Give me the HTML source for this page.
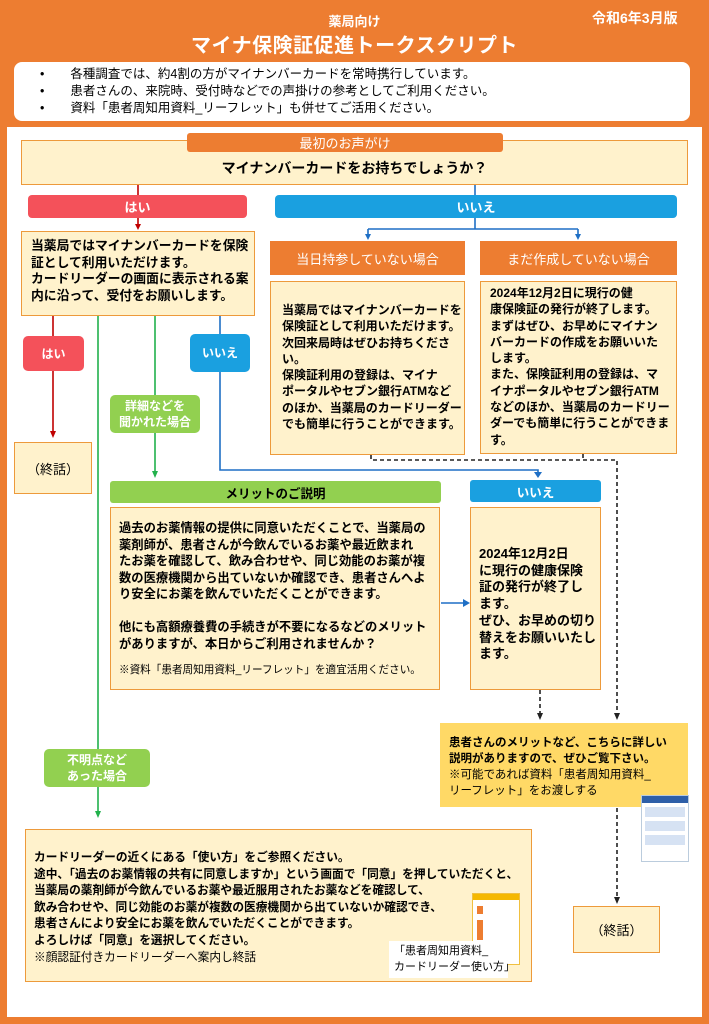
<!DOCTYPE html>
<html><head><meta charset="utf-8"><style>
*{margin:0;padding:0;box-sizing:border-box}
body{width:709px;height:1024px;background:#ED7D31;position:relative;overflow:hidden;font-family:"Liberation Sans","Noto Sans CJK JP",sans-serif;color:#000}
.a{position:absolute}
.box{position:absolute;background:#FFF2CC;border:1.5px solid #ED9A3B;white-space:nowrap}
.b{font-weight:bold}
.w{color:#fff}
.c{display:flex;align-items:center;justify-content:center;text-align:center}
.tag{position:absolute;border-radius:5px;color:#fff;font-weight:bold;font-size:12px;line-height:16px;white-space:nowrap}
</style></head><body>
<div class="a w b" style="left:0;width:709px;top:11px;text-align:center;font-size:13px">薬局向け</div>
<div class="a w b" style="left:0;width:709px;top:29px;text-align:center;font-size:20px;letter-spacing:0.5px">マイナ保険証促進トークスクリプト</div>
<div class="a w b" style="left:592px;top:8px;font-size:14px">令和6年3月版</div>
<div class="a" style="left:14px;top:62px;width:676px;height:59px;background:#fff;border-radius:8px;font-size:12.5px;line-height:17px;padding-top:4px">
<div style="padding-left:26px">•<span style="margin-left:26px">各種調査では、約4割の方がマイナンバーカードを常時携行しています。</span></div>
<div style="padding-left:26px">•<span style="margin-left:26px">患者さんの、来院時、受付時などでの声掛けの参考としてご利用ください。</span></div>
<div style="padding-left:26px">•<span style="margin-left:26px">資料「患者周知用資料_リーフレット」も併せてご活用ください。</span></div>
</div>
<div class="a" style="left:7px;top:127px;width:695px;height:890px;background:#fff"></div>

<div class="box" style="left:21px;top:140px;width:667px;height:45px"></div>
<div class="a c w" style="left:187px;top:133px;width:316px;height:19px;background:#ED7D31;border-radius:3px;font-size:13px">最初のお声がけ</div>
<div class="a b" style="left:21px;width:667px;top:158px;text-align:center;font-size:14px">マイナンバーカードをお持ちでしょうか？</div>

<div class="a c w b" style="left:28px;top:195px;width:219px;height:23px;background:#F4515A;border-radius:4px;font-size:13px">はい</div>
<div class="a c w b" style="left:275px;top:195px;width:402px;height:23px;background:#1AA0E0;border-radius:4px;font-size:13px">いいえ</div>

<div class="box b" style="left:21px;top:231px;width:234px;height:85px;font-size:12.8px;line-height:16.5px;padding:6px 0 0 9px">当薬局ではマイナンバーカードを保険<br>証として利用いただけます。<br>カードリーダーの画面に表示される案<br>内に沿って、受付をお願いします。</div>

<div class="a c w" style="left:270px;top:241px;width:195px;height:34px;background:#ED7D31;font-size:13px">当日持参していない場合</div>
<div class="a c w" style="left:480px;top:241px;width:197px;height:34px;background:#ED7D31;font-size:13px">まだ作成していない場合</div>
<div class="box b" style="left:270px;top:281px;width:195px;height:174px;font-size:12px;line-height:16.3px;padding:20px 0 0 11px">当薬局ではマイナンバーカードを<br>保険証として利用いただけます。<br>次回来局時はぜひお持ちくださ<br>い。<br>保険証利用の登録は、マイナ<br>ポータルやセブン銀行ATMなど<br>のほか、当薬局のカードリーダー<br>でも簡単に行うことができます。</div>
<div class="box b" style="left:480px;top:281px;width:197px;height:173px;font-size:12px;line-height:16.3px;padding:3px 0 0 9px">2024年12月2日に現行の健<br>康保険証の発行が終了します。<br>まずはぜひ、お早めにマイナン<br>バーカードの作成をお願いいた<br>します。<br>また、保険証利用の登録は、マ<br>イナポータルやセブン銀行ATM<br>などのほか、当薬局のカードリー<br>ダーでも簡単に行うことができま<br>す。</div>

<svg class="a" style="left:0;top:0" width="709" height="1024">
<g stroke-width="1.6" fill="none">
<path d="M138,185V195M138,218V225" stroke="#C00000"/><path d="M135,224 L141,224 L138,230z" fill="#C00000" stroke="none"/>
<path d="M475,185V195M475,218V229M368,229H578M368,229V235M578,229V235" stroke="#1F6FC5"/>
<path d="M365,234 L371,234 L368,240z M575,234 L581,234 L578,240z" fill="#1F6FC5" stroke="none"/>
<path d="M53,316V432" stroke="#C00000"/><path d="M50,431 L56,431 L53,438z" fill="#C00000" stroke="none"/>
<path d="M98,316V812" stroke="#22B14C"/><path d="M95,811 L101,811 L98,818z" fill="#22B14C" stroke="none"/>
<path d="M155,316V472" stroke="#22B14C"/><path d="M152,471 L158,471 L155,478z" fill="#22B14C" stroke="none"/>
<path d="M220,316V470H538V474" stroke="#1F6FC5"/><path d="M534,472 L542,472 L538,478z" fill="#1F6FC5" stroke="none"/>
<path d="M441,603H464" stroke="#1F6FC5"/><path d="M463,599 L470,603 L463,607z" fill="#1F6FC5" stroke="none"/>
<g stroke="#222" stroke-dasharray="4,3">
<path d="M371,455V460H617V714M583,454V460M540,690V714M617,808V898"/>
</g>
<path d="M537,713 L543,713 L540,720z M614,713 L620,713 L617,720z M614,897 L620,897 L617,904z" fill="#222" stroke="none"/>
</g>
</svg>

<div class="tag c" style="left:23px;top:336px;width:61px;height:35px;background:#F4515A">はい</div>
<div class="tag c" style="left:190px;top:334px;width:60px;height:38px;background:#1AA0E0">いいえ</div>
<div class="tag c" style="left:110px;top:395px;width:90px;height:38px;background:#92D050">詳細などを<br>聞かれた場合</div>
<div class="tag c" style="left:44px;top:749px;width:106px;height:38px;background:#92D050">不明点など<br>あった場合</div>

<div class="box c" style="left:14px;top:442px;width:78px;height:52px;font-size:13px">（終話）</div>

<div class="a c b" style="left:110px;top:481px;width:331px;height:22px;background:#92D050;font-size:12.5px;border-radius:3px">メリットのご説明</div>
<div class="box" style="left:110px;top:507px;width:330px;height:183px;font-size:12.3px;line-height:16.5px;padding:12px 0 0 8px"><span class="b">過去のお薬情報の提供に同意いただくことで、当薬局の<br>薬剤師が、患者さんが今飲んでいるお薬や最近飲まれ<br>たお薬を確認して、飲み合わせや、同じ効能のお薬が複<br>数の医療機関から出ていないか確認でき、患者さんへよ<br>り安全にお薬を飲んでいただくことができます。<br><br>他にも高額療養費の手続きが不要になるなどのメリット<br>がありますが、本日からご利用されませんか？</span><div style="font-size:10.6px;margin-top:10px">※資料「患者周知用資料_リーフレット」を適宜活用ください。</div></div>

<div class="a c w b" style="left:470px;top:480px;width:131px;height:22px;background:#1AA0E0;font-size:12.5px;border-radius:3px">いいえ</div>
<div class="box b" style="left:470px;top:507px;width:131px;height:183px;font-size:13px;line-height:16.7px;padding:38px 0 0 8px">2024年12月2日<br>に現行の健康保険<br>証の発行が終了し<br>ます。<br>ぜひ、お早めの切り<br>替えをお願いいたし<br>ます。</div>

<div class="a" style="left:440px;top:723px;width:248px;height:84px;background:#FFD966;padding:12px 0 0 9px;font-size:11.5px;line-height:16px;white-space:nowrap"><span class="b">患者さんのメリットなど、こちらに詳しい<br>説明がありますので、ぜひご覧下さい。</span><br>※可能であれば資料「患者周知用資料_<br>リーフレット」をお渡しする</div>
<div class="a" style="left:641px;top:795px;width:48px;height:67px;background:#fff;border:1px solid #bcd;"><div style="height:7px;background:#2E5FA8"></div><div style="margin:4px 3px;height:10px;background:#D6E2F3"></div><div style="margin:4px 3px;height:10px;background:#D6E2F3"></div><div style="margin:4px 3px;height:10px;background:#D6E2F3"></div></div>

<div class="box c" style="left:573px;top:906px;width:87px;height:47px;font-size:13px">（終話）</div>

<div class="box" style="left:25px;top:829px;width:507px;height:153px;font-size:11.7px;line-height:16.6px;padding:20px 0 0 8px"><span class="b">カードリーダーの近くにある「使い方」をご参照ください。<br>途中、「過去のお薬情報の共有に同意しますか」という画面で「同意」を押していただくと、<br>当薬局の薬剤師が今飲んでいるお薬や最近服用されたお薬などを確認して、<br>飲み合わせや、同じ効能のお薬が複数の医療機関から出ていないか確認でき、<br>患者さんにより安全にお薬を飲んでいただくことができます。<br>よろしけば「同意」を選択してください。</span><br>※顔認証付きカードリーダーへ案内し終話</div>
<div class="a" style="left:472px;top:893px;width:48px;height:72px;background:#fff;border:1px solid #F0C040"><div style="height:6px;background:#F5B800"></div><div style="margin:6px 4px 0;height:8px;width:6px;background:#ED7D31"></div><div style="margin:6px 4px 0;height:20px;width:6px;background:#ED7D31"></div></div>
<div class="a" style="left:389px;top:941px;width:119px;height:37px;background:#fff;font-size:11px;line-height:16px;padding:2px 0 0 5px;white-space:nowrap">「患者周知用資料_<br>カードリーダー使い方」</div>
</body></html>
